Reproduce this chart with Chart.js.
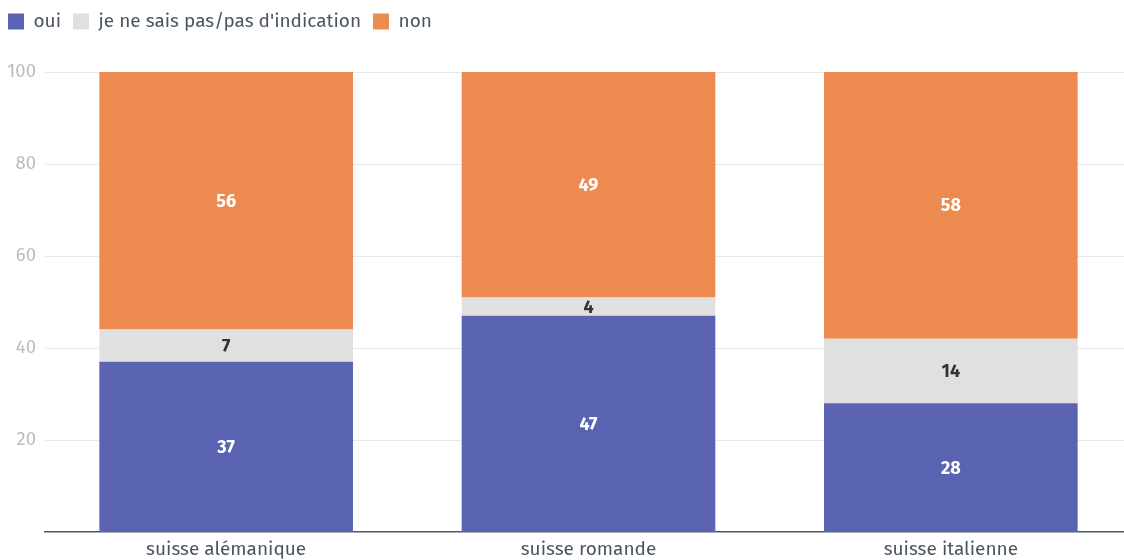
<!DOCTYPE html>
<html><head><meta charset="utf-8">
<script src="https://cdn.jsdelivr.net/npm/chart.js@4/dist/chart.umd.min.js"></script>
<style>html,body{margin:0;padding:0;background:#fff;overflow:hidden}#wrap{width:1132px;height:560px;position:relative}</style>
</head><body><div id="wrap"><canvas id="c"></canvas></div>
<script>
const categories = ['suisse alémanique', 'suisse romande', 'suisse italienne'];
const seriesNames = ['oui', "je ne sais pas/pas d'indication", 'non'];
const oui = [37, 47, 28];
const nsp = [7, 4, 14];
const non = [56, 49, 58];
const yTicks = [20, 40, 60, 80, 100];

const FONT = '"Fira Sans", "Open Sans", sans-serif';
const labelPlugin = {
  id: 'barLabels',
  afterDatasetsDraw(chart) {
    const ctx = chart.ctx;
    ctx.save();
    ctx.font = 'bold 18px ' + FONT;
    ctx.textAlign = 'center';
    ctx.textBaseline = 'middle';
    chart.data.datasets.forEach((ds, i) => {
      const meta = chart.getDatasetMeta(i);
      meta.data.forEach((bar, j) => {
        const v = ds.data[j];
        const y = (bar.y + bar.base) / 2;
        ctx.fillStyle = ds.labelColor;
        ctx.fillText(String(v), bar.x, y + 1);
      });
    });
    ctx.restore();
  }
};
const legendMargin = {
  id: 'legendMargin',
  beforeInit(chart) {
    const lg = chart.legend;
    const orig = lg.fit;
    lg.fit = function () { orig.call(lg); this.height += 29; };
    const od = lg.draw;
    lg.draw = function () {
      const ctx = chart.ctx;
      ctx.save(); ctx.translate(-4, -2); od.call(lg); ctx.restore();
    };
  }
};

new Chart(document.getElementById('c'), {
  type: 'bar',
  data: {
    labels: categories,
    datasets: [
      { label: seriesNames[0], data: oui, backgroundColor: '#5a63b1', labelColor: '#ffffff' },
      { label: seriesNames[1], data: nsp, backgroundColor: '#e0e0e0', labelColor: '#333333' },
      { label: seriesNames[2], data: non, backgroundColor: '#ed8a4f', labelColor: '#ffffff' }
    ]
  },
  options: {
    responsive: true,
    maintainAspectRatio: false,
    animation: false,
    layout: { padding: { left: 0, right: 0, top: 2, bottom: 0 } },
    datasets: { bar: { barPercentage: 0.7, categoryPercentage: 1, borderWidth: 0 } },
    plugins: {
      legend: {
        position: 'top', align: 'start',
        labels: { boxWidth: 16, boxHeight: 16, padding: 12, color: '#4a5560', font: { family: FONT, size: 19 } }
      },
      tooltip: { enabled: false }
    },
    scales: {
      x: {
        stacked: true,
        afterFit(scale) { scale.height = 28; },
        grid: { display: false, drawTicks: false, tickLength: 0 },
        border: { display: true, color: '#4a5a6a', width: 1.5 },
        ticks: { color: '#4a5560', font: { family: FONT, size: 19, lineHeight: 1.2 }, padding: 6 }
      },
      y: {
        stacked: true, min: 0, max: 100,
        afterFit(scale) { scale.width = 45; },
        afterBuildTicks(scale) { scale.ticks = yTicks.map(v => ({ value: v })); },
        grid: { color: '#e8e8e8', drawTicks: false },
        border: { display: false },
        ticks: { color: '#b8bcc0', font: { family: FONT, size: 18.5 }, padding: 9 }
      }
    }
  },
  plugins: [labelPlugin, legendMargin]
});
</script></body></html>
